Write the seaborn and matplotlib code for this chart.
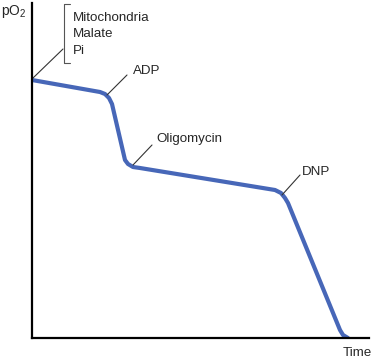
import matplotlib
matplotlib.use("Agg")
import matplotlib.pyplot as plt
import seaborn as sns
import pandas as pd

# Data (arbitrary units)
time = [0, 68, 73, 77, 80, 93, 96, 101, 108, 243, 249, 253, 256, 308, 311, 316]
po2 = [258, 246, 244, 240, 234, 178, 174, 171, 170, 148, 145, 140, 135, 8, 3, 0]
bracket_labels = ["Mitochondria", "Malate", "Pi"]
events = ["ADP", "Oligomycin", "DNP"]

sns.set_theme(style="white")
plt.rcParams["font.family"] = ["Liberation Sans", "DejaVu Sans"]
plt.rcParams["mathtext.fontset"] = "custom"
plt.rcParams["mathtext.rm"] = "Liberation Sans"
plt.rcParams["mathtext.it"] = "Liberation Sans"

W, H = 372, 364
fig = plt.figure(figsize=(W / 100, H / 100), dpi=100)
ax = fig.add_axes([32 / W, (H - 338) / H, 337 / W, 335 / H])
ax.set_xlim(0, 337)
ax.set_ylim(0, 335)

df = pd.DataFrame({"Time": time, "pO2": po2})
sns.lineplot(data=df, x="Time", y="pO2", sort=False, ax=ax, color="#4767B8",
             linewidth=3.0, solid_joinstyle="round", solid_capstyle="round")

for s in ["top", "right"]:
    ax.spines[s].set_visible(False)
for s in ["left", "bottom"]:
    ax.spines[s].set_color("black")
    ax.spines[s].set_linewidth(1.6)
ax.set_xticks([])
ax.set_yticks([])
ax.set_xlabel("")
ax.set_ylabel("")

fs = 9.6
lc = "#333333"
# bracket
ax.plot([38, 32, 32, 38], [334, 334, 275, 275], color="#555555", lw=0.8, clip_on=False)
ax.plot([1, 31], [260, 289], color=lc, lw=0.8, clip_on=False)
for lab, y in zip(bracket_labels, [320, 304, 287]):
    ax.text(41, y, lab, fontsize=fs, va="center", ha="left")

# event annotations
leaders = [((75, 243), (95, 263)), ((101, 173), (120, 193)), ((250, 143), (268, 163))]
text_pos = [(101, 267), (124, 199), (270, 166)]
for lab, (p0, p1), tp in zip(events, leaders, text_pos):
    ax.plot([p0[0], p1[0]], [p0[1], p1[1]], color=lc, lw=0.8)
    ax.text(tp[0], tp[1], lab, fontsize=fs, va="center", ha="left")

ax.text(325, -15, "Time", fontsize=fs, va="center", ha="center", clip_on=False)
ax.text(-31, 327, "pO$_2$", fontsize=10, va="center", ha="left", clip_on=False)

fig.savefig("out.png", dpi=100)
